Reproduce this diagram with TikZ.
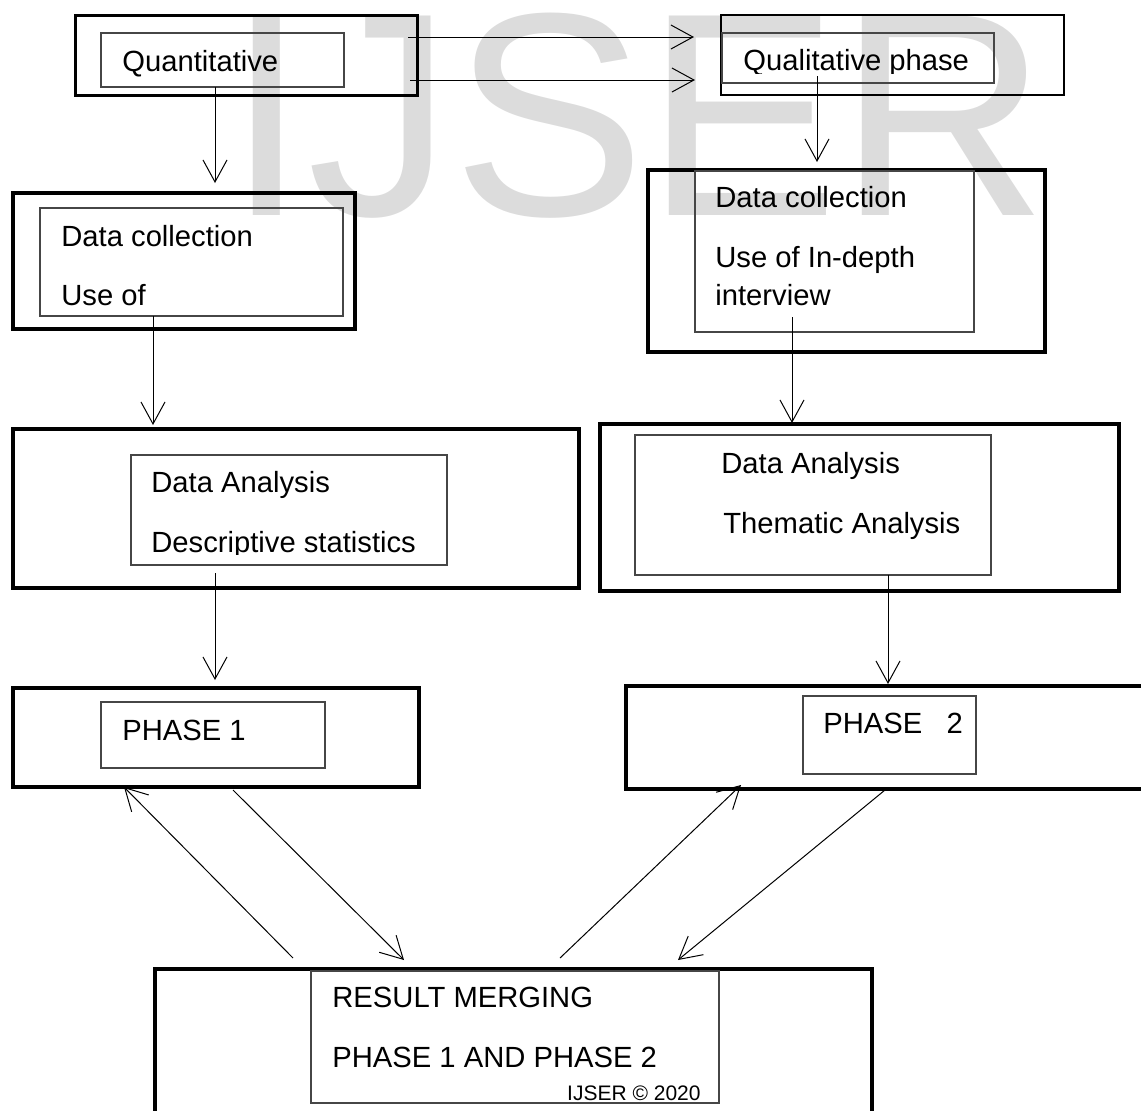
\documentclass[tikz,border=0pt]{standalone}
\usepackage{fontspec}
\setmainfont{Liberation Sans}
\usetikzlibrary{arrows.meta,calc,fit}

\definecolor{wmark}{RGB}{220,220,220}
\definecolor{frame}{RGB}{70,70,70}

\begin{document}
\begin{tikzpicture}[x=0.5pt, y=-0.5pt, line join=miter]
    \tikzset{
        outerBox/.style={draw=black, line width=1.7pt, inner sep=0pt, outer sep=0pt},
        innerBox/.style={draw=frame, line width=0.8pt, inner sep=0pt, outer sep=0pt},
        boxText/.style={anchor=base west, inner sep=0pt, font=\fontsize{14.6}{17}\selectfont},
        footText/.style={anchor=base east, inner sep=0pt, font=\fontsize{10.5}{12}\selectfont},
        flow/.style={-{Straight Barb[length=11pt,width=12pt]}, line width=0.5pt}
    }

    \useasboundingbox (0,0) rectangle (1141,1110);

    % Watermark
    \node[anchor=base west, inner sep=0pt, text=wmark, font=\fontsize{145}{145}\selectfont] (wm) at (226,215) {IJSER};

    % Quantitative / qualitative
    \node[outerBox, line width=1.5pt, fit={(75,15) (417,95)}] (qnOut) {};
    \node[innerBox, fit={(101,33) (344,87)}] (qnIn) {};
    \node[boxText] (qnTxt) at (122,71) {Quantitative};

    \node[outerBox, line width=1.3pt, fit={(721,15) (1064,95)}] (qlOut) {};
    \node[innerBox, fit={(722,33) (994,83)}] (qlIn) {};
    \begin{scope}
        \clip (722,33) rectangle (994,73);
        \node[boxText] (qlTxt) at (743,70) {Qualitative phase};
    \end{scope}

    % Data collection
    \node[outerBox, line width=2pt, fit={(13,193) (355,329)}] (dcLOut) {};
    \node[innerBox, fit={(40,208) (343,316)}] (dcLIn) {};
    \node[boxText] (dcLTxtA) at (61,246) {Data collection};
    \node[boxText] (dcLTxtB) at (61,305) {Use of};

    \node[outerBox, line width=1.8pt, fit={(648,170) (1045,352)}] (dcROut) {};
    \node[innerBox, fit={(695,171) (974,332)}] (dcRIn) {};
    \node[boxText] (dcRTxtA) at (715,207) {Data collection};
    \node[boxText] (dcRTxtB) at (715,267) {Use of In-depth};
    \node[boxText] (dcRTxtC) at (715,305) {interview};

    % Data analysis
    \node[outerBox, line width=2.2pt, fit={(13,429) (579,588)}] (daLOut) {};
    \node[innerBox, fit={(131,455) (447,565)}] (daLIn) {};
    \node[boxText] (daLTxtA) at (151,492) {Data Analysis};
    \begin{scope}
        \clip (131,455) rectangle (447,554);
        \node[boxText] (daLTxtB) at (151,552) {Descriptive statistics};
    \end{scope}

    \node[outerBox, line width=1.9pt, fit={(600,424) (1119,591)}] (daROut) {};
    \node[innerBox, fit={(635,435) (991,575)}] (daRIn) {};
    \node[boxText] (daRTxtA) at (721,473) {Data Analysis};
    \node[boxText] (daRTxtB) at (723,533) {Thematic Analysis};

    % Phases
    \node[outerBox, line width=1.6pt, fit={(13,688) (419,787)}] (ph1Out) {};
    \node[innerBox, fit={(101,702) (325,768)}] (ph1In) {};
    \node[boxText] (ph1Txt) at (122,740) {PHASE 1};

    \node[outerBox, line width=1.9pt, fit={(626,686) (1152,789)}] (ph2Out) {};
    \node[innerBox, fit={(803,696) (976,774)}] (ph2In) {};
    \node[boxText] (ph2Txt) at (823,733) {PHASE\ \ \ 2};

    % Result merging
    \node[outerBox, line width=1.9pt, fit={(155,969) (872,1118)}] (rmOut) {};
    \node[innerBox, fit={(311,971) (719,1103)}] (rmIn) {};
    \node[boxText] (rmTxtA) at (332,1007) {RESULT MERGING};
    \node[boxText] (rmTxtB) at (332,1067) {PHASE 1 AND PHASE 2};
    \node[footText] (rmFoot) at (701,1100) {IJSER \textcopyright{} 2020};

    % Connectors
    \draw[flow] ($(qnOut.north east)+(-9,22)$) -- ($(qlOut.north west)+(-27,22)$);
    \draw[flow] ($(qnOut.south east)+(-7,-15)$) -- ($(qlOut.south west)+(-26,-15)$);
    \draw[flow] ($(qnIn.south)+(-7.5,0)$) -- ($(dcLOut.north west)+(202,-10)$);
    \draw[flow] ($(qlIn.south)+(-41,-7)$) -- ($(dcROut.north west)+(169,-8)$);
    \draw[flow] ($(dcLIn.south west)+(113,0)$) -- ($(daLOut.north west)+(140,-4)$);
    \draw[flow] ($(dcRIn.south west)+(97,-15)$) -- ($(daROut.north west)+(192,-1)$);
    \draw[flow] ($(daLIn.south west)+(84,8)$) -- ($(ph1Out.north west)+(202,-8)$);
    \draw[flow] ($(daRIn.south west)+(253,0)$) -- ($(ph2Out.north west)+(262,-2)$);

    \draw[flow] ($(rmOut.north west)+(138,-11)$) -- ($(ph1Out.south west)+(111,0)$);
    \draw[flow] ($(ph1Out.south west)+(220,3)$) -- ($(rmOut.north west)+(249,-9)$);
    \draw[flow] ($(rmOut.north west)+(405,-11)$) -- ($(ph2Out.south west)+(115,-4)$);
    \draw[flow] ($(ph2Out.south west)+(259,1)$) -- ($(rmOut.north west)+(523,-9)$);
\end{tikzpicture}
\end{document}
